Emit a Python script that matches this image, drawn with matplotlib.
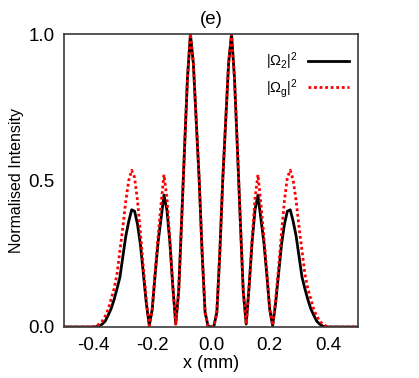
import numpy as np
import matplotlib
matplotlib.use('Agg')
import matplotlib.pyplot as plt

plt.rcParams['font.family'] = ['Liberation Sans', 'DejaVu Sans']
plt.rcParams['mathtext.fontset'] = 'custom'
plt.rcParams['mathtext.rm'] = 'Liberation Sans'
plt.rcParams['mathtext.it'] = 'Liberation Sans:italic'

# sample positions (mm), every 0.01 mm
x = np.round(np.arange(-50, 51) * 0.01, 2)

# |Omega_2|^2
omega2 = [0, 0, 0, 0, 0, 0, 0, 0, 0, 0, 0,
          0.001, 0.003, 0.01, 0.02, 0.04, 0.062, 0.093, 0.13, 0.17, 0.24,
          0.31, 0.36, 0.40, 0.395, 0.35, 0.28, 0.18, 0.08, 0.005, 0.06,
          0.18, 0.29, 0.37, 0.45, 0.40, 0.29, 0.14, 0.01, 0.12, 0.36,
          0.61, 0.85, 1.00, 0.90, 0.70, 0.50, 0.25, 0.05, 0.003,
          0.0,
          0.003, 0.05, 0.25, 0.50, 0.70, 0.90, 1.00, 0.85, 0.61, 0.36,
          0.12, 0.01, 0.14, 0.29, 0.40, 0.45, 0.37, 0.29, 0.18, 0.06,
          0.005, 0.08, 0.18, 0.28, 0.35, 0.395, 0.40, 0.36, 0.31, 0.24,
          0.17, 0.13, 0.093, 0.062, 0.04, 0.02, 0.01, 0.003, 0.001,
          0, 0, 0, 0, 0, 0, 0, 0, 0, 0, 0]

# |Omega_g|^2
omegag = [0, 0, 0, 0, 0, 0, 0, 0, 0, 0, 0.001,
          0.004, 0.01, 0.02, 0.037, 0.06, 0.095, 0.13, 0.18, 0.26, 0.34,
          0.43, 0.50, 0.535, 0.51, 0.43, 0.32, 0.20, 0.09, 0.005, 0.06,
          0.19, 0.31, 0.42, 0.52, 0.44, 0.30, 0.14, 0.01, 0.12, 0.36,
          0.61, 0.85, 1.00, 0.90, 0.70, 0.50, 0.25, 0.05, 0.003,
          0.0,
          0.003, 0.05, 0.25, 0.50, 0.70, 0.90, 1.00, 0.85, 0.61, 0.36,
          0.12, 0.01, 0.14, 0.30, 0.44, 0.52, 0.42, 0.31, 0.19, 0.06,
          0.005, 0.09, 0.20, 0.32, 0.43, 0.51, 0.535, 0.50, 0.43, 0.34,
          0.26, 0.18, 0.13, 0.095, 0.06, 0.037, 0.02, 0.01, 0.004, 0.001,
          0, 0, 0, 0, 0, 0, 0, 0, 0, 0]

xticks = [-0.4, -0.2, 0.0, 0.2, 0.4]
yticks = [0.0, 0.5, 1.0]

fig = plt.figure(figsize=(4.19, 3.78), dpi=100)
ax = fig.add_axes([0.153, 0.135, 0.701, 0.775])

ax.plot(x, omega2, color='black', lw=2.0, label=r'$|\Omega_2|^2$')
ax.plot(x, omegag, color='red', lw=2.0, linestyle=(0, (1, 1)),
        label=r'$|\Omega_\mathrm{g}|^2$')

ax.set_xlim(-0.5, 0.5)
ax.set_ylim(0, 1)
ax.set_xticks(xticks)
ax.set_xticklabels(['%.1f' % t for t in xticks])
ax.set_yticks(yticks)
ax.set_yticklabels(['%.1f' % t for t in yticks])
ax.tick_params(length=0, labelsize=13.5, pad=7)
for s in ax.spines.values():
    s.set_color('#3a3a3a')
    s.set_linewidth(1.2)

ax.set_xlabel('x (mm)', fontsize=13, labelpad=1)
ax.set_ylabel('Normalised Intensity', fontsize=11.5, labelpad=3)
ax.set_title('(e)', fontsize=13.5, pad=7)

ax.legend(loc='upper right', bbox_to_anchor=(0.99, 0.965), frameon=False,
          markerfirst=False, fontsize=10.5, handlelength=2.8,
          borderaxespad=0.0, labelspacing=0.35, handletextpad=0.7)

fig.savefig('out.png', dpi=100)
